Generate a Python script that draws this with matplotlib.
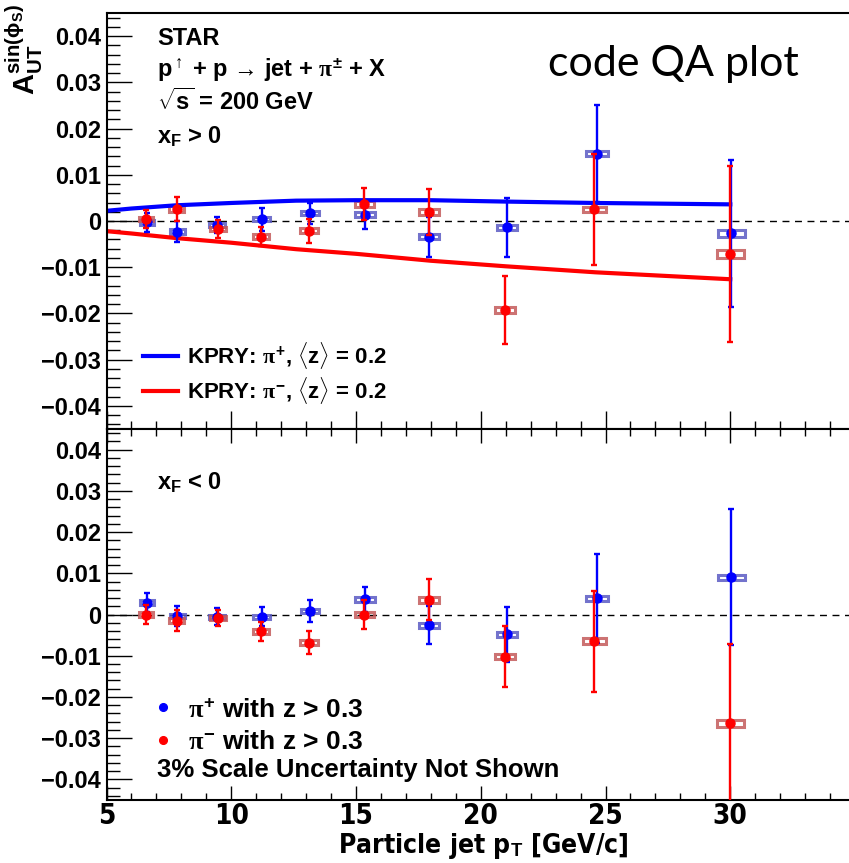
import matplotlib
matplotlib.use("Agg")
import matplotlib.pyplot as plt
from matplotlib.patches import Rectangle
from matplotlib.ticker import MultipleLocator, FixedLocator
from matplotlib import font_manager as fm

plt.rcParams['font.family'] = ['Liberation Sans', 'DejaVu Sans']
plt.rcParams['font.weight'] = 'bold'
plt.rcParams['mathtext.fontset'] = 'custom'
plt.rcParams['mathtext.rm'] = 'Liberation Sans:bold'
plt.rcParams['mathtext.bf'] = 'Liberation Sans:bold'
plt.rcParams['mathtext.it'] = 'Liberation Serif'
plt.rcParams['mathtext.sf'] = 'Liberation Sans:bold'
plt.rcParams['axes.unicode_minus'] = True

# ---------------- data ----------------
x_pip = [6.63, 7.83, 9.42, 11.22, 13.16, 15.37, 17.94, 21.05, 24.65, 30.05]
x_pim = [6.60, 7.82, 9.46, 11.20, 13.12, 15.34, 17.92, 20.98, 24.55, 30.00]
box_hw = [0.28, 0.30, 0.33, 0.33, 0.36, 0.40, 0.40, 0.40, 0.45, 0.55]

# x_F > 0
top_pip = [-0.0003, -0.0023, -0.0009, 0.0004, 0.0017, 0.0014, -0.0034, -0.0014, 0.0146, -0.0027]
top_pip_err = [0.0020, 0.0023, 0.0018, 0.0025, 0.0023, 0.0032, 0.0043, 0.0064, 0.0105, 0.0160]
top_pip_sys = [0.0005, 0.0005, 0.0005, 0.0005, 0.0005, 0.0006, 0.0006, 0.0006, 0.0006, 0.0007]
top_pim = [0.0004, 0.0026, -0.0017, -0.0034, -0.0021, 0.0037, 0.0019, -0.0193, 0.0025, -0.0071]
top_pim_err = [0.0020, 0.0025, 0.0019, 0.0020, 0.0026, 0.0034, 0.0050, 0.0073, 0.0121, 0.0190]
top_pim_sys = [0.0005, 0.0006, 0.0005, 0.0006, 0.0005, 0.0006, 0.0006, 0.0007, 0.0006, 0.0008]

# x_F < 0
bot_pip = [0.0029, -0.0004, -0.0005, -0.0005, 0.0009, 0.0037, -0.0026, -0.0048, 0.0039, 0.0090]
bot_pip_err = [0.0022, 0.0025, 0.0020, 0.0023, 0.0026, 0.0030, 0.0046, 0.0067, 0.0107, 0.0165]
bot_pip_sys = [0.0005, 0.0005, 0.0005, 0.0005, 0.0005, 0.0006, 0.0006, 0.0006, 0.0006, 0.0007]
bot_pim = [0.0000, -0.0015, -0.0008, -0.0041, -0.0068, -0.0001, 0.0036, -0.0102, -0.0065, -0.0264]
bot_pim_err = [0.0024, 0.0025, 0.0020, 0.0023, 0.0028, 0.0035, 0.0050, 0.0075, 0.0123, 0.0193]
bot_pim_sys = [0.0005, 0.0006, 0.0005, 0.0006, 0.0006, 0.0006, 0.0007, 0.0007, 0.0007, 0.0009]

# KPRY theory curves
kpry_x = [5.0, 6.0, 7.8, 10.0, 12.6, 15.0, 18.0, 21.0, 24.6, 30.0]
kpry_pip = [0.0022, 0.0027, 0.0034, 0.0039, 0.0044, 0.0045, 0.0045, 0.0042, 0.0039, 0.0036]
kpry_pim = [-0.0022, -0.0027, -0.0037, -0.0047, -0.0061, -0.0071, -0.0086, -0.0098, -0.0111, -0.0126]

xticks = [5, 10, 15, 20, 25, 30]
yticks = [-0.04, -0.03, -0.02, -0.01, 0, 0.01, 0.02, 0.03, 0.04]
ytick_labels = ['\u22120.04', '\u22120.03', '\u22120.02', '\u22120.01', '0', '0.01', '0.02', '0.03', '0.04']

BLUE = '#0000ff'
RED = '#ff0000'
BLUE_BOX = '#5a5ac4'
RED_BOX = '#c45a5a'

# condensed bold font for the x axis (if one is installed)
cond = None
for f in fm.fontManager.ttflist:
    nm = f.name.lower()
    st = str(f.stretch).lower()
    wt = f.weight if isinstance(f.weight, int) else (700 if 'bold' in str(f.weight) else 400)
    if (('narrow' in nm or 'condensed' in nm or 'condensed' in st) and wt >= 600
            and 'semi' not in nm and 'mono' not in nm and 'serif' not in nm):
        cond = f.fname
        break
if cond is not None:
    xfp_tick = fm.FontProperties(fname=cond, size=20)
    xfp_label = fm.FontProperties(fname=cond, size=19)
else:
    xfp_tick = fm.FontProperties(family='Liberation Sans', weight='bold', size=19)
    xfp_label = fm.FontProperties(family='Liberation Sans', weight='bold', size=19)

W, H = 849, 863
fig = plt.figure(figsize=(W / 100, H / 100), dpi=100)
left = 106.5 / W
width = (855 - 106.5) / W
ax1 = fig.add_axes([left, 1 - 429 / H, width, (429 - 13) / H])
ax2 = fig.add_axes([left, 1 - 800 / H, width, (800 - 429) / H])


def draw_panel(ax, yp, ep, sp, ym, em, sm):
    ax.axhline(0, color='black', lw=1.0, ls=(0, (5, 4)), zorder=1)
    for xs, ys, ss, col in ((x_pip, yp, sp, BLUE_BOX), (x_pim, ym, sm, RED_BOX)):
        for xi, yi, si, hw in zip(xs, ys, ss, box_hw):
            ax.add_patch(Rectangle((xi - hw, yi - si), 2 * hw, 2 * si, fill=False,
                                   edgecolor=col, lw=2.2, alpha=0.85, zorder=2))
    ax.errorbar(x_pip, yp, yerr=ep, fmt='none', ecolor=BLUE, elinewidth=1.7,
                capsize=2.5, capthick=1.7, zorder=3)
    hp, = ax.plot(x_pip, yp, 'o', color=BLUE, ms=6.5, zorder=4, label=r'$\pi^{+}$ with z > 0.3')
    ax.errorbar(x_pim, ym, yerr=em, fmt='none', ecolor=RED, elinewidth=1.7,
                capsize=2.5, capthick=1.7, zorder=5)
    hm, = ax.plot(x_pim, ym, 'o', color=RED, ms=6.5, zorder=6, label=r'$\pi^{-}$ with z > 0.3')
    ax.set_xlim(5, 35)
    ax.set_ylim(-0.045, 0.045)
    ax.yaxis.set_major_locator(FixedLocator(yticks))
    ax.set_yticklabels(ytick_labels, fontsize=17, fontweight='bold')
    ax.yaxis.set_minor_locator(MultipleLocator(0.002))
    ax.xaxis.set_major_locator(FixedLocator(xticks))
    ax.xaxis.set_minor_locator(MultipleLocator(1))
    ax.tick_params(axis='y', which='major', direction='in', length=18, width=1.0, pad=4)
    ax.tick_params(axis='y', which='minor', direction='in', length=9, width=1.0)
    for sp_ in ax.spines.values():
        sp_.set_linewidth(1.5)
    ax.spines['right'].set_visible(False)
    return hp, hm


draw_panel(ax1, top_pip, top_pip_err, top_pip_sys, top_pim, top_pim_err, top_pim_sys)
hp, hm = draw_panel(ax2, bot_pip, bot_pip_err, bot_pip_sys, bot_pim, bot_pim_err, bot_pim_sys)

l1, = ax1.plot(kpry_x, kpry_pip, color=BLUE, lw=3.0, zorder=2.5,
               label=r'KPRY: $\pi^{+}$, $\langle$z$\rangle$ = 0.2')
l2, = ax1.plot(kpry_x, kpry_pim, color=RED, lw=3.0, zorder=2.5,
               label=r'KPRY: $\pi^{-}$, $\langle$z$\rangle$ = 0.2')

ax1.tick_params(axis='x', which='major', direction='in', length=13, width=1.0, labelbottom=False)
ax1.tick_params(axis='x', which='minor', direction='in', length=6, width=1.0)

ax2.tick_params(axis='x', which='major', direction='in', length=10, width=1.0, top=True, pad=1.5)
ax2.tick_params(axis='x', which='minor', direction='in', length=5, width=1.0, top=True)
ax2.set_xticks(xticks)
ax2.set_xticklabels([str(v) for v in xticks], fontproperties=xfp_tick)

ax2.set_xlabel(r'Particle jet p$_{\mathbf{T}}$ [GeV/c]', fontproperties=xfp_label)
ax2.xaxis.set_label_coords(0.503, -0.083)

leg1 = ax1.legend(handles=[l1, l2], loc='upper left', bbox_to_anchor=(0.049, 0.215),
                  frameon=False, prop={'size': 16, 'weight': 'bold'}, handlelength=1.55,
                  handletextpad=0.4, labelspacing=0.2, borderaxespad=0, borderpad=0)
leg2 = ax2.legend(handles=[hp, hm], loc='upper left', bbox_to_anchor=(0.063, 0.276),
                  frameon=False, prop={'size': 19, 'weight': 'bold'}, handlelength=0.7,
                  handletextpad=0.6, labelspacing=0.33, borderaxespad=0, borderpad=0,
                  markerscale=0.85)


def ftxt(xpx, ypx, s, **kw):
    fig.text(xpx / W, 1 - ypx / H, s, **kw)


ftxt(157, 45, 'STAR', fontsize=17, fontweight='bold', va='baseline')
ftxt(157, 77, '$\\mathbf{p}^{\\uparrow}$ + p \u2192 jet + $\\pi^{\\pm}$ + X', fontsize=17,
     fontweight='bold', va='baseline')
ftxt(157, 110, r'$\sqrt{\mathbf{s}}$ = 200 GeV', fontsize=17, fontweight='bold', va='baseline')
ftxt(157, 144, r'x$_{\mathbf{F}}$ > 0', fontsize=17, fontweight='bold', va='baseline')
ftxt(157, 490, r'x$_{\mathbf{F}}$ < 0', fontsize=17, fontweight='bold', va='baseline')
ftxt(157, 777, '3% Scale Uncertainty Not Shown', fontsize=18.5, fontweight='bold', va='baseline')
ftxt(548, 76, 'code QA plot', fontsize=31, fontweight='normal', family=['Lato', 'DejaVu Sans'],
     va='baseline')

fig.text(4 / W, 1 - 4 / H, r'$\mathbf{A_{UT}^{sin(\phi_{S})}}$', rotation=90, fontsize=21,
         ha='left', va='top')

fig.savefig('out.png', dpi=100)
